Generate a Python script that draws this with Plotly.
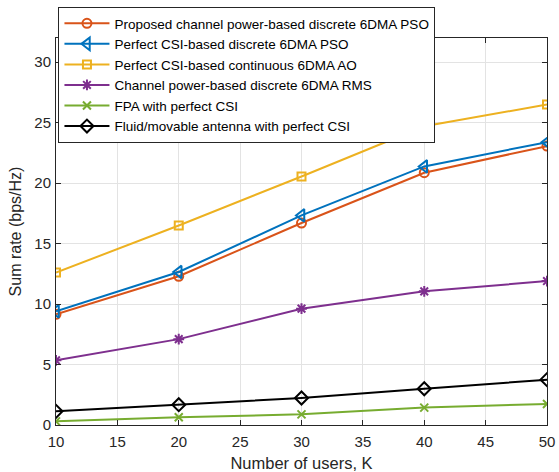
import plotly.graph_objects as go

users = [10, 20, 30, 40, 50]
proposed_pso = [9.15, 12.3, 16.7, 20.86, 23.06]
perfect_csi_pso = [9.4, 12.65, 17.33, 21.38, 23.39]
perfect_csi_ao = [12.6, 16.5, 20.55, 24.7, 26.5]
channel_power_rms = [5.35, 7.1, 9.62, 11.05, 11.9]
fpa_perfect_csi = [0.3, 0.64, 0.88, 1.44, 1.74]
fluid_movable = [1.13, 1.68, 2.23, 3.0, 3.75]

names = [
    "Proposed channel power-based discrete 6DMA PSO",
    "Perfect CSI-based discrete 6DMA PSO",
    "Perfect CSI-based continuous 6DMA AO",
    "Channel power-based discrete 6DMA RMS",
    "FPA with perfect CSI",
    "Fluid/movable antenna with perfect CSI",
]
series = [proposed_pso, perfect_csi_pso, perfect_csi_ao, channel_power_rms, fpa_perfect_csi, fluid_movable]
colors = ["#D95319", "#0072BD", "#EDB120", "#7E2F8E", "#77AC30", "#000000"]
symbols = ["circle-open", "triangle-left-open", "square-open", "asterisk-open", "x-thin-open", "diamond-open"]
sizes = [9, 11, 8, 9, 8, 10]

FONT = "Liberation Sans, Arial, sans-serif"

fig = go.Figure()
for nm, ys, c, s, sz in zip(names, series, colors, symbols, sizes):
    fig.add_trace(go.Scatter(
        x=users, y=ys, name=nm, mode="lines+markers",
        line=dict(color=c, width=2),
        marker=dict(symbol=s, size=sz, color=c, line=dict(color=c, width=2)),
    ))

axis_common = dict(
    showline=True, linecolor="#262626", linewidth=1, mirror="ticks",
    ticks="inside", ticklen=5, tickcolor="#262626",
    showgrid=True, gridcolor="#E3E3E3", gridwidth=1,
    zeroline=False, automargin=False,
    tickfont=dict(family=FONT, size=15, color="#262626"),
)

fig.update_layout(
    width=559, height=472,
    margin=dict(l=56, r=12, t=38, b=47, autoexpand=False),
    paper_bgcolor="white", plot_bgcolor="white",
    font=dict(family=FONT, color="#262626"),
    xaxis=dict(range=[10, 50], tickvals=[10, 15, 20, 25, 30, 35, 40, 45, 50],
               ticklabelstandoff=3,
               title=dict(text="Number of users, K", font=dict(size=16.5), standoff=8),
               **axis_common),
    yaxis=dict(range=[0, 32], tickvals=[0, 5, 10, 15, 20, 25, 30],
               ticklabelstandoff=1,
               title=dict(text="Sum rate (bps/Hz)", font=dict(size=16), standoff=8),
               **axis_common),
    legend=dict(x=0.005, y=1.08, xanchor="left", yanchor="top",
                bgcolor="white", bordercolor="#262626", borderwidth=1,
                font=dict(family=FONT, size=13.5, color="black"), itemwidth=45,
                tracegroupgap=0),
    showlegend=True,
)

fig.write_html("out.html")
